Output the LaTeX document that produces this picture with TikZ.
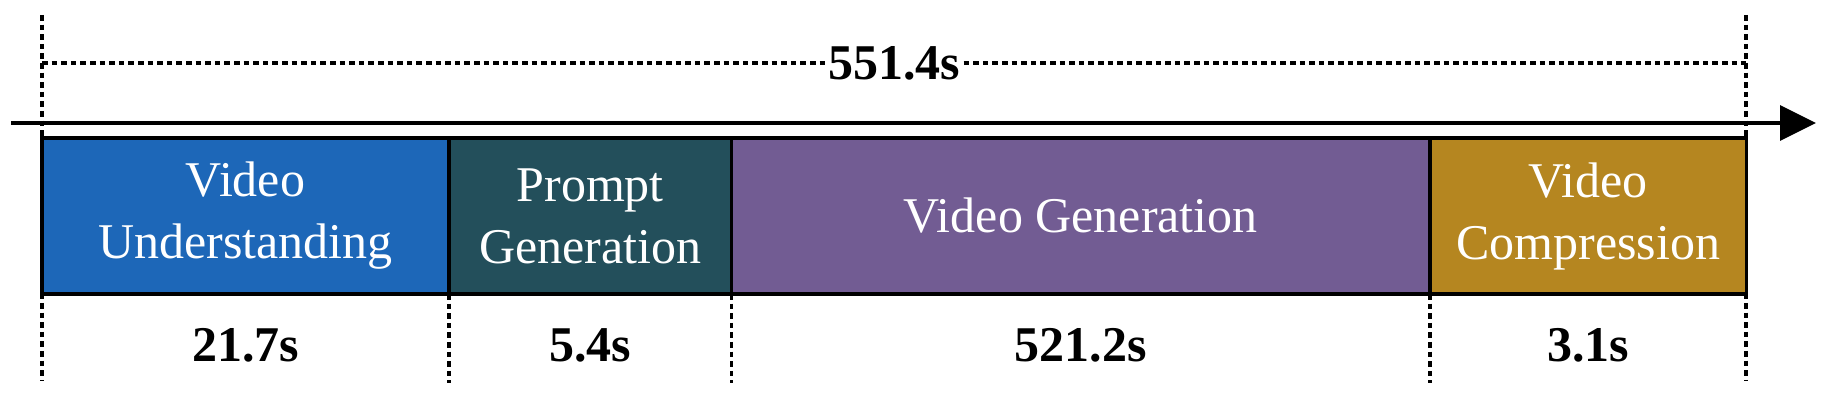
\documentclass[tikz,border=0pt]{standalone}
\usepackage{fontspec}
\setmainfont{Liberation Serif}
\usetikzlibrary{arrows.meta}
\definecolor{understandblue}{RGB}{29,103,184}
\definecolor{promptteal}{RGB}{35,79,91}
\definecolor{genpurple}{RGB}{114,92,147}
\definecolor{compressgold}{RGB}{181,134,32}

\begin{document}
\begin{tikzpicture}[x=0.5pt,y=0.5pt,
  stage/.style={draw=black,line width=1.7pt,text=white,align=center,inner sep=0pt,outer sep=0pt,minimum height=78pt,font=\fontsize{25}{31}\selectfont},
  time/.style={font=\fontsize{25}{31}\selectfont\bfseries},
  guide/.style={line width=1.7pt,dash pattern=on 2.8pt off 2pt}]
  \useasboundingbox (0,0) rectangle (1829,396);

  \draw[guide] (42,381) -- (42,16);
  \draw[guide] (1746,381) -- (1746,16);
  \draw[line width=1.6pt,-{Triangle[length=18pt,width=17.5pt]}] (11,273) -- (1816,273);

  \node[stage,fill=understandblue,minimum width=203.5pt] (1) at (245.5,180) {Video\\Understanding};
  \node[stage,fill=promptteal,minimum width=141.25pt] (2) at (590.25,180) {Prompt\\Generation};
  \node[stage,fill=genpurple,minimum width=349.25pt] (3) at (1080.75,180) {Video Generation};
  \node[stage,fill=compressgold,minimum width=158.15pt] (4) at (1588.15,180) {Video\\Compression};

  \draw[guide] (1.south east) -- ++(0,-89);
  \draw[guide] (2.south east) -- ++(0,-89);
  \draw[guide] (3.south east) -- ++(0,-89);

  \node[time] (t1) at (245.5,51) {21.7s};
  \node[time] (t2) at (590.25,51) {5.4s};
  \node[time] (t3) at (1080.75,51) {521.2s};
  \node[time] (t4) at (1588.15,51) {3.1s};

  \draw[guide] (42,333) -- node[time,fill=white,inner sep=1.5pt] (total) {551.4s} (1746,333);
\end{tikzpicture}
\end{document}
